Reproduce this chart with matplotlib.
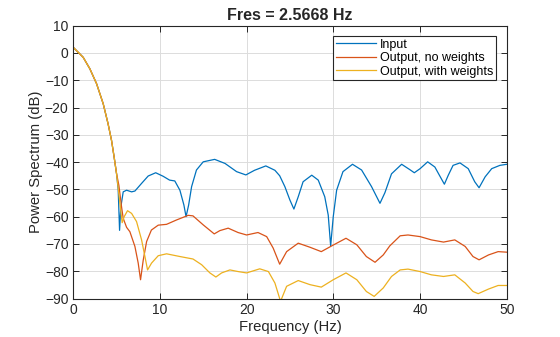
import matplotlib
matplotlib.use("Agg")
import matplotlib.pyplot as plt

# Shared main lobe of all three spectra (Hz, dB)
lobe_f = [0, 1.13, 1.9, 2.68, 3.44, 4.0, 4.4, 4.7, 4.98]
lobe_db = [2.0, -1.6, -5.8, -11.3, -18.6, -25.9, -32.0, -38.1, -44.2]

# Input spectrum
input_f = lobe_f + [5.17, 5.33, 5.48, 5.75, 6.14, 6.72, 7.1, 7.87, 8.63, 9.5, 10.36,
                    11.1, 11.7, 12.29, 12.75, 13.0, 13.3, 13.64, 14.2, 14.98, 16.3,
                    17.5, 18.83, 19.9, 20.9, 22.2, 23.25, 23.8, 24.4, 24.98, 25.44,
                    25.94, 26.5, 27.5, 28.25, 29.0, 29.4, 29.68, 29.98, 30.37, 31.1,
                    32.2, 33.25, 34.4, 35.37, 35.94, 36.7, 37.87, 38.83, 39.33, 40.0,
                    40.87, 41.7, 42.5, 42.8, 43.25, 43.8, 44.6, 45.55, 46.3, 46.8,
                    47.5, 48.26, 49.2, 50.0]
input_db = lobe_db + [-50.0, -65.0, -56.4, -50.9, -50.3, -50.9, -50.6, -47.8, -45.1,
                      -43.9, -45.2, -46.6, -46.9, -50.3, -55.7, -60.0, -55.7, -49.0,
                      -42.9, -39.9, -39.0, -40.5, -43.5, -44.7, -43.0, -41.4, -43.0,
                      -45.0, -49.0, -53.9, -57.2, -52.7, -47.2, -44.8, -46.6, -52.7,
                      -59.4, -70.7, -60.0, -50.3, -43.5, -40.8, -42.9, -49.0, -55.1,
                      -51.2, -44.3, -40.8, -42.8, -43.9, -42.4, -39.9, -41.8, -46.4,
                      -48.1, -44.8, -41.2, -40.3, -42.4, -47.2, -49.4, -45.4, -42.4,
                      -41.2, -40.8]

# Output without weights
out_nw_f = lobe_f + [5.25, 5.56, 5.75, 6.14, 6.52, 7.1, 7.48, 7.75, 8.06, 8.45, 9.0,
                     9.79, 10.75, 11.9, 13.25, 13.8, 14.98, 16.25, 16.9, 17.86, 19.0,
                     19.98, 21.3, 22.3, 23.05, 23.8, 24.6, 25.94, 27.3, 28.6, 29.8,
                     31.45, 32.7, 33.8, 34.8, 35.75, 36.5, 37.7, 38.6, 40.0, 41.3,
                     42.7, 44.0, 45.2, 46.1, 46.8, 47.9, 49.0, 50.0]
out_nw_db = lobe_db + [-48.5, -56.4, -60.6, -63.9, -65.5, -70.9, -77.0, -83.1, -75.9,
                       -69.1, -64.9, -63.1, -62.8, -61.2, -59.5, -59.7, -63.0, -66.3,
                       -65.1, -64.2, -65.8, -66.7, -65.8, -67.3, -71.5, -77.4, -72.8,
                       -69.7, -71.2, -72.8, -70.7, -67.9, -70.3, -74.6, -76.7, -74.0,
                       -70.7, -67.0, -66.7, -67.3, -68.5, -69.3, -68.5, -70.9, -74.6,
                       -75.8, -74.0, -72.8, -73.0]

# Output with weights
out_w_f = lobe_f + [5.17, 5.37, 5.63, 5.86, 6.25, 6.72, 7.29, 7.87, 8.33, 8.56, 9.02,
                    9.79, 10.75, 12.3, 13.8, 14.8, 15.75, 16.44, 17.1, 18.06, 19.0,
                    19.98, 21.5, 22.5, 23.25, 23.9, 24.6, 25.94, 27.3, 28.6, 29.98,
                    31.45, 32.7, 33.8, 34.7, 35.75, 36.7, 37.7, 38.6, 40.0, 41.3,
                    42.7, 44.0, 45.2, 46.1, 46.7, 47.9, 49.0, 50.0]
out_w_db = lobe_db + [-49.5, -55.1, -62.2, -60.0, -57.8, -58.8, -61.8, -68.5, -75.8,
                      -79.5, -77.0, -74.3, -73.6, -74.6, -75.5, -77.6, -80.6, -82.1,
                      -80.6, -79.5, -80.1, -80.6, -79.1, -80.1, -84.3, -91.0, -85.5,
                      -83.4, -84.9, -85.8, -83.1, -80.6, -83.1, -87.4, -89.2, -86.1,
                      -81.9, -79.5, -79.2, -80.1, -81.3, -81.9, -81.3, -84.3, -87.4,
                      -88.2, -86.5, -85.2, -85.2]

x_ticks = [0, 10, 20, 30, 40, 50]
y_ticks = [-90, -80, -70, -60, -50, -40, -30, -20, -10, 0, 10]

plt.rcParams['font.family'] = ['Liberation Sans', 'DejaVu Sans']

fig = plt.figure(figsize=(5.6, 3.37), dpi=100)
ax = fig.add_axes([0.131, 0.114, 0.774, 0.81])

lw = 0.9
ax.plot(input_f, input_db, color='#0072BD', lw=lw, label='Input')
ax.plot(out_nw_f, out_nw_db, color='#D95319', lw=lw, label='Output, no weights')
ax.plot(out_w_f, out_w_db, color='#EDB120', lw=lw, label='Output, with weights')

ax.set_xlim(0, 50)
ax.set_ylim(-90, 10)
ax.set_xticks(x_ticks)
ax.set_yticks(y_ticks)
ax.grid(True, color='#dcdcdc', lw=0.7)
ax.set_axisbelow(True)
ax.tick_params(direction='in', top=True, right=True, length=4, width=0.7,
               labelsize=10, colors='#262626')
for s in ax.spines.values():
    s.set_color('#262626')
    s.set_linewidth(0.8)

ax.set_xlabel('Frequency (Hz)', fontsize=10.7, color='#262626', labelpad=2)
ax.set_ylabel('Power Spectrum (dB)', fontsize=10.7, color='#262626', labelpad=1)
ax.set_title('Fres = 2.5668 Hz', fontsize=11.5, fontweight='bold', color='#262626', pad=4)

leg = ax.legend(loc='upper right', fontsize=9, frameon=True, fancybox=False,
                edgecolor='#262626', framealpha=1, handlelength=3.2, handletextpad=0.35,
                borderpad=0.2, labelspacing=0.12, borderaxespad=0.85)
leg.get_frame().set_linewidth(0.8)

fig.savefig('out.png', dpi=100)
